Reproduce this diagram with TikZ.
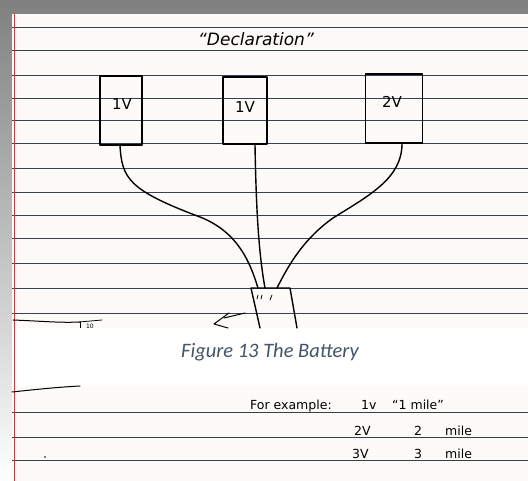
\documentclass[tikz,border=0pt]{standalone}
\usepackage{fontspec}
\setmainfont{Latin Modern Roman}
\newfontfamily\capfont{Carlito}
\newfontfamily\handfont{DejaVu Sans}
\begin{document}
\begin{tikzpicture}[x=1pt,y=-1pt,
  rule/.style={draw=rulecol,line width=0.8pt},
  ink/.style={draw=black,line width=1.4pt,line cap=round,line join=round},
  cell/.style={ink,minimum width=#1,inner sep=0pt},
  hand/.style={font=\handfont\fontsize{15}{15}\selectfont,inner sep=0pt,text=black},
  small/.style={hand,font=\handfont\fontsize{12.5}{12.5}\selectfont,anchor=base west},
  every node/.style={anchor=center}]
\definecolor{rulecol}{HTML}{35405C}
\definecolor{paper}{HTML}{FCFBF8}
\definecolor{shade}{HTML}{EDEDED}
\definecolor{margin}{HTML}{D23A3A}
\definecolor{capcol}{HTML}{44546A}
\useasboundingbox (0,0) rectangle (528,481);
% background
\fill[shade] (0,0) rectangle (528,481);
\fill[paper] (12,14) rectangle (528,328);
\fill[white] (12,328) rectangle (528,386);
\fill[paper] (12,386) rectangle (528,481);
% ruled lines
\foreach \yy in {27,50,75,98,120,143,168,192,215,238,263,288,313}
  \draw[rule] (12,\yy) -- (528,\yy);
\foreach \yy in {412,437,460}
  \draw[rule] (12,\yy) -- (528,\yy);
% margin line
\draw[margin,line width=0.8pt] (14,14) -- (14,481);
% title
\node[hand,font=\handfont\itshape\fontsize{17}{17}\selectfont] (title) at (256,39) {“Declaration”};
% boxes
\node[cell=42pt,minimum height=69pt] (b1) at (121,110.5) {};
\node[cell=44pt,minimum height=67pt] (b2) at (245,110.5) {};
\node[cell=57pt,minimum height=69pt] (b3) at (394,108.5) {};
\node[hand] (l1) at (122,104) {1V};
\node[hand] (l2) at (245,107) {1V};
\node[hand] (l3) at (392,102) {2V};
% battery
\coordinate (btl) at (251,288);
\coordinate (btr) at (290,288);
\coordinate (bbr) at (297,328);
\coordinate (bbl) at (260,328);
\draw[ink] (bbl) -- (btl) -- (btr) -- (bbr);
\coordinate (bat1) at (258,288);
\coordinate (bat2) at (265,288);
\coordinate (bat3) at (277,288);
\draw[ink,line width=0.8pt] (258,295) -- (257,299) (262,295) -- (261,299) (272,295) -- (270,300);
% wires
\draw[ink] ([xshift=-1pt]b1.south) .. controls (122,178) and (128,190) .. (200,217)
  .. controls (238,232) and (250,262) .. (bat1);
\draw[ink] ([xshift=10pt]b2.south) .. controls (256,200) and (258,250) .. (bat2);
\draw[ink] ([xshift=8pt]b3.south) .. controls (402,178) and (370,195) .. (333,218)
  .. controls (305,238) and (290,262) .. (bat3);
% arrow near battery
\draw[ink,line width=1pt] (245,313) -- (224,318);
\draw[ink,line width=1pt] (229,313) -- (214,324) -- (228,328);
% left stroke and tag
\draw[ink,line width=1pt] (13,320) .. controls (40,321) and (60,323) .. (80,322);
\draw[ink,line width=0.8pt] (79,322) -- (102,320);
\draw[line width=0.6pt] (80,322) -- (80,328);
\node[hand,font=\handfont\fontsize{6}{6}\selectfont] (tag) at (90,326) {10};
% caption
\node[font=\capfont\itshape\fontsize{20.5}{20.5}\selectfont,text=capcol] (cap) at (270,352) {Figure 13 The Battery};
% lower
\draw[ink,line width=1pt] (12,392) .. controls (40,389) and (60,387) .. (80,386);
\fill[black] (45,457) circle (0.9);
\node[small] (fe) at (250,409) {For example:};
\node[small] (r1a) at (361,409) {1v};
\node[small] (r1b) at (392,409) {“1 mile”};
\node[small] (r2a) at (354,435) {2V};
\node[small] (r2b) at (414,435) {2};
\node[small] (r2c) at (445,435) {mile};
\node[small] (r3a) at (352,458) {3V};
\node[small] (r3b) at (414,458) {3};
\node[small] (r3c) at (445,458) {mile};
\end{tikzpicture}
\end{document}
